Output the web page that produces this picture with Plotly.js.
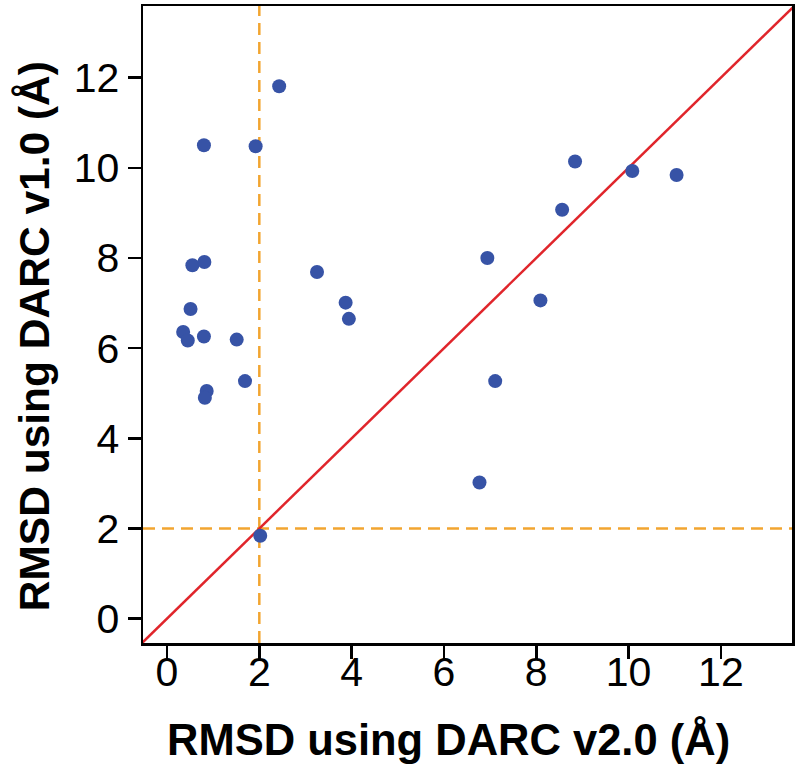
<!DOCTYPE html>
<html>
<head>
<meta charset="utf-8">
<script src="https://cdn.plot.ly/plotly-3.0.1.min.js"></script>
<style>
html,body{margin:0;padding:0;background:#fff;}
#chart{width:800px;height:772px;}
</style>
</head>
<body>
<div id="chart"></div>
<script>
// RMSD values (Å)
const rmsdV2 = [2.43, 0.80, 1.92, 0.55, 0.81, 3.25, 0.51, 3.87, 3.94, 0.35, 0.45, 0.80, 1.51, 1.69, 0.86, 0.82, 2.02,
                8.84, 10.08, 11.04, 8.56, 6.94, 8.09, 7.11, 6.77];
const rmsdV1 = [11.81, 10.50, 10.48, 7.84, 7.91, 7.69, 6.87, 7.01, 6.65, 6.36, 6.17, 6.26, 6.19, 5.27, 5.05, 4.90, 1.84,
                10.14, 9.93, 9.84, 9.07, 8.00, 7.06, 5.27, 3.02];
const identityLine = [-1, 15];
const threshold = 2;
const tickVals = [0, 2, 4, 6, 8, 10, 12];
const xTitle = 'RMSD using DARC v2.0 (Å)';
const yTitle = 'RMSD using DARC v1.0 (Å)';

const FONT = 'Liberation Sans, Arial, sans-serif';

const traces = [
  {
    x: identityLine, y: identityLine, mode: 'lines', type: 'scatter',
    line: {color: '#e0252b', width: 2.5}, hoverinfo: 'skip', showlegend: false
  },
  {
    x: rmsdV2, y: rmsdV1, mode: 'markers', type: 'scatter',
    marker: {color: '#3753a6', size: 14, line: {width: 0}},
    showlegend: false
  }
];

const axisCommon = {
  showline: true, mirror: true, linecolor: '#000', linewidth: 2.5,
  ticks: 'outside', ticklen: 13, tickwidth: 2.5, tickcolor: '#000',
  tickvals: tickVals, showgrid: false, zeroline: false,
  tickfont: {family: FONT, size: 41, color: '#000'}
};

const layout = {
  width: 800, height: 772,
  margin: {l: 143, r: 8, t: 6, b: 129},
  paper_bgcolor: '#fff', plot_bgcolor: '#fff',
  xaxis: Object.assign({}, axisCommon, {range: [-0.52, 13.54], ticklabelstandoff: -22}),
  yaxis: Object.assign({}, axisCommon, {range: [-0.54, 13.59]}),
  annotations: [
    {text: '<b>' + xTitle + '</b>', xref: 'paper', yref: 'paper', x: 0.47, y: -0.153,
     xanchor: 'center', yanchor: 'middle', showarrow: false,
     font: {family: FONT, size: 43.5, color: '#000'}},
    {text: '<b>' + yTitle + '</b>', xref: 'paper', yref: 'paper', x: -0.166, y: 0.482,
     xanchor: 'center', yanchor: 'middle', showarrow: false, textangle: -90,
     font: {family: FONT, size: 42.5, color: '#000'}}
  ],
  shapes: [
    {type: 'line', xref: 'x', yref: 'paper', x0: threshold, x1: threshold, y0: 0, y1: 1,
     line: {color: '#f2a530', width: 2.5, dash: '12px,7px'}, layer: 'below'},
    {type: 'line', xref: 'paper', yref: 'y', x0: 0, x1: 1, y0: threshold, y1: threshold,
     line: {color: '#f2a530', width: 2.5, dash: '12px,7px'}, layer: 'below'}
  ]
};

Plotly.newPlot('chart', traces, layout, {displayModeBar: false, staticPlot: true});
</script>
</body>
</html>
